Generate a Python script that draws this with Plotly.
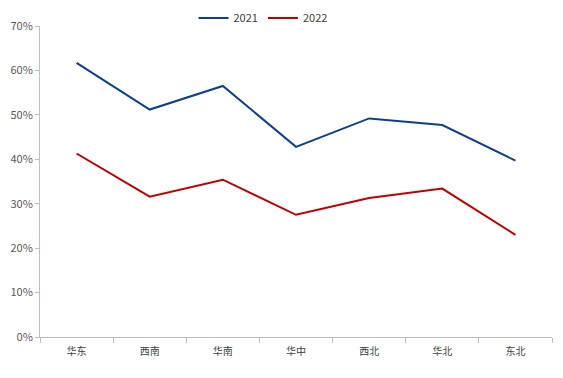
import plotly.graph_objects as go

categories = ["华东", "西南", "华南", "华中", "西北", "华北", "东北"]
values_2021 = [0.617, 0.512, 0.565, 0.428, 0.492, 0.477, 0.397]
values_2022 = [0.413, 0.316, 0.354, 0.275, 0.313, 0.334, 0.230]
y_ticks = [0, 0.1, 0.2, 0.3, 0.4, 0.5, 0.6, 0.7]

fig = go.Figure()
fig.add_trace(go.Scatter(x=categories, y=values_2021, mode="lines", name="2021",
                         line=dict(color="#0E3F8E", width=2)))
fig.add_trace(go.Scatter(x=categories, y=values_2022, mode="lines", name="2022",
                         line=dict(color="#C00000", width=2)))

# page body has an 8px default margin, so the figure is 8px smaller than the window
W, H = 555, 370
fig.update_layout(
    width=W, height=H,
    margin=dict(l=32, r=11, t=18, b=41, autoexpand=False),
    paper_bgcolor="white", plot_bgcolor="white",
    font=dict(family="Noto Sans CJK SC, DejaVu Sans", size=11, color="#595959"),
    showlegend=True,
    legend=dict(orientation="h", x=(263 - 8) / W, xanchor="center", y=1 - 10 / H, yanchor="middle",
                yref="container", xref="container",
                font=dict(size=11, color="#404040"), itemwidth=30,
                tracegroupgap=0, bgcolor="rgba(0,0,0,0)"),
    xaxis=dict(type="category", range=[-0.5, 6.5], showline=True, linecolor="#BFBFBF",
               linewidth=1, ticks="outside", tickson="boundaries", ticklen=5,
               tickcolor="#BFBFBF", showgrid=False, zeroline=False, automargin=False,
               ticklabelstandoff=5,
               tickfont=dict(size=10, color="#404040")),
    yaxis=dict(range=[0, 0.7], tickvals=y_ticks, tickformat=".0%", showline=True,
               linecolor="#BFBFBF", linewidth=1, ticks="outside", ticklen=4,
               tickcolor="#BFBFBF", showgrid=False, zeroline=False, automargin=False,
               tickfont=dict(size=11, color="#595959")),
)

fig.write_html("out.html")
